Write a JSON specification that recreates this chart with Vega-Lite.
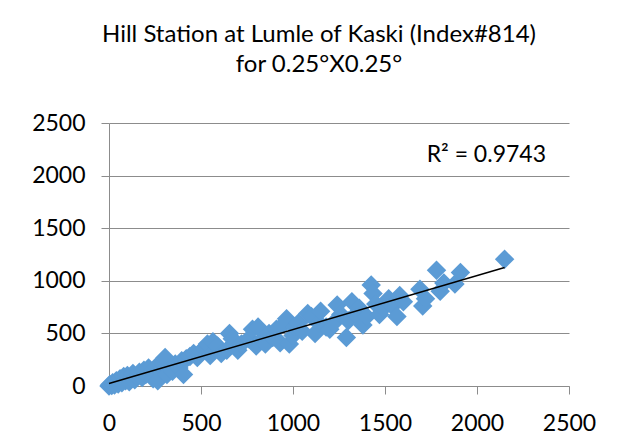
{
  "$schema": "https://vega.github.io/schema/vega-lite/v6.json",
  "autosize": {"type": "none"},
  "width": 460,
  "height": 263,
  "padding": {"left": 109, "top": 123, "right": 56, "bottom": 53},
  "background": "white",
  "title": {
    "text": ["Hill Station at Lumle of Kaski (Index#814)", "for 0.25°X0.25°"],
    "font": "Lato",
    "fontSize": 24,
    "fontWeight": "normal",
    "color": "#000000",
    "anchor": "middle",
    "dx": -20,
    "offset": 35,
    "lineHeight": 30
  },
  "config": {
    "view": {"stroke": null},
    "axis": {
      "labelFont": "Lato",
      "labelFontSize": 23,
      "labelColor": "#000000",
      "domainColor": "#8c8c8c",
      "tickColor": "#8c8c8c",
      "gridColor": "#8c8c8c",
      "tickSize": 8,
      "format": "d",
      "title": null
    }
  },
  "layer": [
    {
      "data": {
        "values": [
          {"x": 0, "y": 0}, {"x": 5, "y": 15}, {"x": 15, "y": 5}, {"x": 20, "y": 30}, {"x": 30, "y": 10},
          {"x": 40, "y": 50}, {"x": 50, "y": 20}, {"x": 60, "y": 70}, {"x": 70, "y": 30}, {"x": 80, "y": 90},
          {"x": 90, "y": 50}, {"x": 100, "y": 100}, {"x": 110, "y": 40}, {"x": 120, "y": 80}, {"x": 130, "y": 120},
          {"x": 140, "y": 60}, {"x": 150, "y": 90}, {"x": 165, "y": 130}, {"x": 180, "y": 80}, {"x": 190, "y": 150},
          {"x": 200, "y": 110}, {"x": 215, "y": 170}, {"x": 230, "y": 130}, {"x": 240, "y": 70}, {"x": 255, "y": 180},
          {"x": 265, "y": 50}, {"x": 280, "y": 150}, {"x": 295, "y": 210}, {"x": 305, "y": 270}, {"x": 315, "y": 110},
          {"x": 330, "y": 180}, {"x": 345, "y": 140}, {"x": 360, "y": 210}, {"x": 380, "y": 170}, {"x": 395, "y": 240},
          {"x": 405, "y": 110}, {"x": 420, "y": 260}, {"x": 440, "y": 280}, {"x": 460, "y": 310}, {"x": 480, "y": 270},
          {"x": 500, "y": 330}, {"x": 520, "y": 360}, {"x": 535, "y": 400}, {"x": 550, "y": 290}, {"x": 565, "y": 420},
          {"x": 590, "y": 380}, {"x": 610, "y": 310}, {"x": 640, "y": 340}, {"x": 655, "y": 500}, {"x": 670, "y": 450},
          {"x": 700, "y": 340}, {"x": 720, "y": 400}, {"x": 760, "y": 450}, {"x": 780, "y": 540}, {"x": 800, "y": 380},
          {"x": 810, "y": 560}, {"x": 830, "y": 440}, {"x": 850, "y": 400}, {"x": 870, "y": 500}, {"x": 890, "y": 460},
          {"x": 910, "y": 540}, {"x": 930, "y": 410}, {"x": 950, "y": 590}, {"x": 965, "y": 640}, {"x": 980, "y": 400},
          {"x": 1000, "y": 480}, {"x": 1010, "y": 560}, {"x": 1030, "y": 600}, {"x": 1050, "y": 520}, {"x": 1080, "y": 690},
          {"x": 1100, "y": 660}, {"x": 1120, "y": 500}, {"x": 1140, "y": 600}, {"x": 1150, "y": 710}, {"x": 1180, "y": 560},
          {"x": 1200, "y": 540}, {"x": 1220, "y": 600}, {"x": 1240, "y": 770}, {"x": 1260, "y": 680}, {"x": 1290, "y": 460},
          {"x": 1300, "y": 620}, {"x": 1320, "y": 800}, {"x": 1340, "y": 680}, {"x": 1360, "y": 740}, {"x": 1380, "y": 580},
          {"x": 1400, "y": 660}, {"x": 1425, "y": 960}, {"x": 1435, "y": 880}, {"x": 1450, "y": 780}, {"x": 1470, "y": 680},
          {"x": 1490, "y": 740}, {"x": 1520, "y": 830}, {"x": 1540, "y": 760}, {"x": 1565, "y": 660}, {"x": 1580, "y": 860},
          {"x": 1600, "y": 800}, {"x": 1690, "y": 920}, {"x": 1705, "y": 760}, {"x": 1720, "y": 830}, {"x": 1780, "y": 1100},
          {"x": 1800, "y": 900}, {"x": 1820, "y": 980}, {"x": 1880, "y": 970}, {"x": 1910, "y": 1080}, {"x": 2150, "y": 1205}
        ]
      },
      "layer": [
        {
          "mark": {"type": "point", "shape": "diamond", "filled": true, "size": 380, "color": "#5B9BD5", "opacity": 1},
          "encoding": {
            "x": {"field": "x", "type": "quantitative", "scale": {"domain": [0, 2500], "nice": false},
                  "axis": {"values": [0, 500, 1000, 1500, 2000, 2500], "grid": false, "labelPadding": 18, "labelFlush": false}},
            "y": {"field": "y", "type": "quantitative", "scale": {"domain": [0, 2500], "nice": false},
                  "axis": {"values": [0, 500, 1000, 1500, 2000, 2500], "grid": true, "labelPadding": 16}}
          }
        },
        {
          "transform": [{"regression": "y", "on": "x"}],
          "mark": {"type": "line", "color": "#000000", "strokeWidth": 1.5},
          "encoding": {
            "x": {"field": "x", "type": "quantitative"},
            "y": {"field": "y", "type": "quantitative"}
          }
        }
      ]
    },
    {
      "data": {"values": [{"label": "R² = 0.9743"}]},
      "mark": {"type": "text", "font": "Lato", "fontSize": 23, "align": "right", "baseline": "alphabetic", "color": "#000000"},
      "encoding": {
        "x": {"datum": 2375, "type": "quantitative"},
        "y": {"datum": 2130, "type": "quantitative"},
        "text": {"field": "label"}
      }
    }
  ]
}
